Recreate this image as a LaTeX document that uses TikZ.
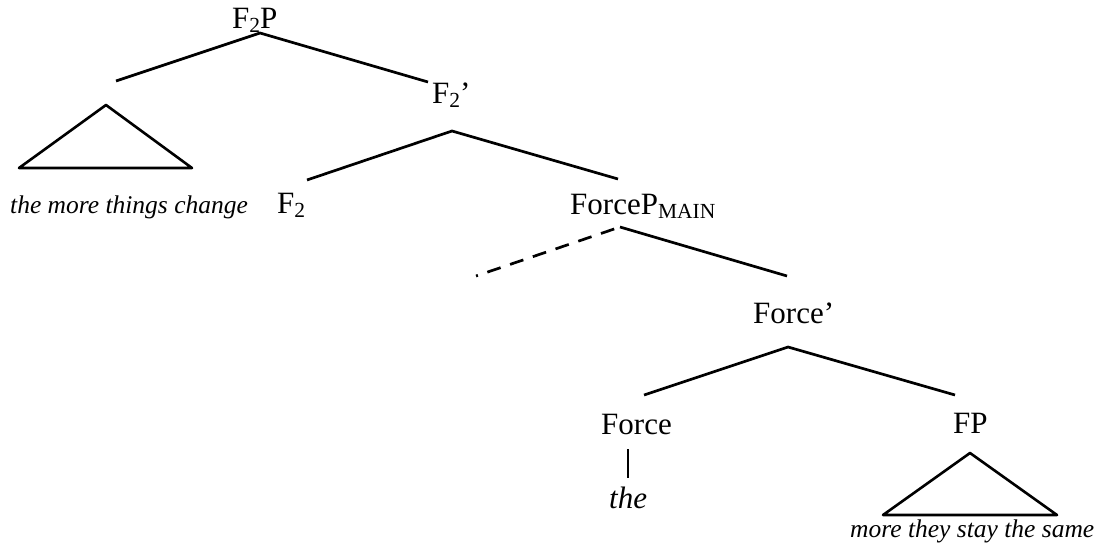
\documentclass[tikz,border=0pt]{standalone}
\usepackage{fontspec}
\setmainfont{Liberation Serif}
\newcommand\lowsub[1]{\raisebox{-4pt}{\fontsize{21.5}{24}\selectfont #1}}
\tikzset{
  lbl/.style={inner sep=0pt, anchor=base west, font=\fontsize{31}{36}\selectfont},
  leaf/.style={lbl, font=\fontsize{25.5}{30}\selectfont\itshape},
  branch/.style={line width=2.7pt}
}
\begin{document}
\begin{tikzpicture}[x=1pt, y=-1pt, line join=round]
	\useasboundingbox (0,0) rectangle (1107,548);
	% labels
	\node[lbl] (f2p) at (232,29) {F\lowsub{2}P};
	\node[lbl] (f2bar) at (432,104) {F\lowsub{2}'};
	\node[lbl] (f2) at (277,213) {F\lowsub{2}};
	\node[lbl] (forcep) at (570,214) {ForceP\lowsub{MAIN}};
	\node[lbl] (forcebar) at (753,323) {Force'};
	\node[lbl] (force) at (601,434) {Force};
	\node[lbl] (fp) at (953,433) {FP};
	\node[lbl, font=\fontsize{31}{36}\selectfont\itshape] (the) at (609,508) {the};
	\node[leaf] (spec) at (10,213) {the more things change};
	\node[leaf] (rest) at (850,537) {more they stay the same};
	% branch points
	\coordinate (f2p-b) at (260,33); \coordinate (f2p-l) at (116,81); \coordinate (f2p-r) at (428,82);
	\coordinate (f2bar-b) at (452,131); \coordinate (f2bar-l) at (307,180); \coordinate (f2bar-r) at (618,179);
	\coordinate (forcep-b) at (620,227); \coordinate (forcep-l) at (476,276); \coordinate (forcep-r) at (787,276);
	\coordinate (forcebar-b) at (788,347); \coordinate (forcebar-l) at (644,395); \coordinate (forcebar-r) at (955,395);
	\draw[branch] (f2p-l) -- (f2p-b) -- (f2p-r);
	\draw[branch] (f2bar-l) -- (f2bar-b) -- (f2bar-r);
	\draw[branch] (forcep-b) -- (forcep-r);
	\draw[branch, dash pattern=on 14pt off 10pt, dash phase=12pt] (forcep-l) -- (forcep-b);
	\draw[branch] (forcebar-l) -- (forcebar-b) -- (forcebar-r);
	% triangles and the head
	\draw[line width=2.6pt] (106,105) -- (19,168) -- (192,168) -- cycle;
	\draw[line width=2.6pt] (970,453) -- (883,515) -- (1057,515) -- cycle;
	\draw[line width=1.4pt] (628,449) -- (628,478);
\end{tikzpicture}
\end{document}
